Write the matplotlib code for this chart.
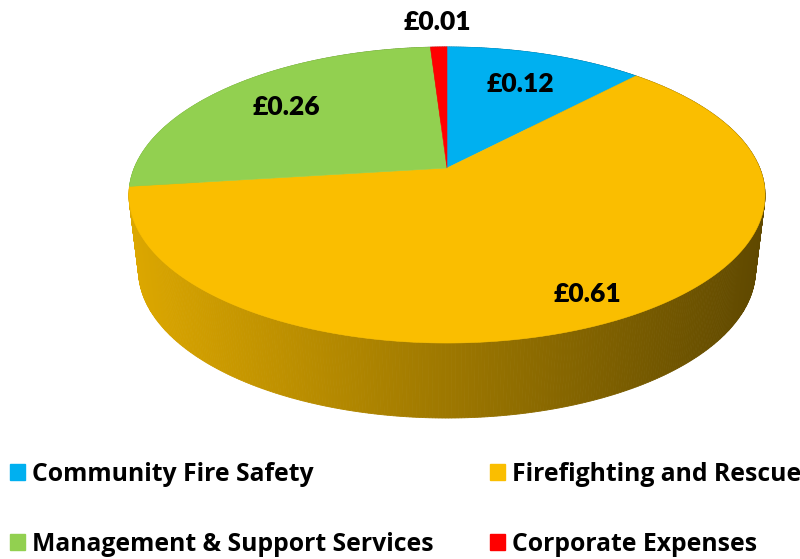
import numpy as np
import matplotlib.pyplot as plt
from matplotlib.patches import Polygon, Patch

categories = ["Community Fire Safety", "Firefighting and Rescue",
              "Management & Support Services", "Corporate Expenses"]
values = [0.12, 0.61, 0.26, 0.01]
labels = ["£0.12", "£0.61", "£0.26", "£0.01"]
colors = ["#00B0F0", "#FABE00", "#92D050", "#FF0000"]

# label distance from centre (fraction of radius)
label_r = [0.71, 0.85, 0.72, 1.25]

# perspective setup for the tilted disc (pixel space)
CX, CY = 447, 168
A, B, K = 312.7, 143.1, 0.1824
DEPTH, SHRINK = 75, 0.97


def top_pt(theta, r=1.0):
    # theta in degrees, clockwise from 12 o'clock
    t = np.radians(theta)
    u, v = r * np.sin(t), r * np.cos(t)
    w = 1 + K * v
    return CX + A * u / w, CY - B * v / w


def bot_pt(theta):
    x, y = top_pt(theta)
    return CX + SHRINK * (x - CX), y + DEPTH


def shade(c, x):
    t = np.clip((x - 130) / 637, 0, 1)
    f = 0.88 - 0.50 * t
    rgb = np.array(plt.matplotlib.colors.to_rgb(c))
    return tuple(rgb * f)


fig = plt.figure(figsize=(8, 5.59), dpi=100)
ax = fig.add_axes([0, 0, 1, 1])
ax.set_xlim(0, 800)
ax.set_ylim(559, 0)
ax.axis("off")

fracs = np.array(values) / sum(values)
starts = np.concatenate([[0], np.cumsum(fracs)[:-1]]) * 360
ends = np.cumsum(fracs) * 360

# side wall strips, back to front
strips = []
for s, e, c in zip(starts, ends, colors):
    n = max(int((e - s) * 2), 2)
    th = np.linspace(s, e, n + 1)
    for a0, a1 in zip(th[:-1], th[1:]):
        p0, p1 = top_pt(a0), top_pt(a1)
        q0, q1 = bot_pt(a0), bot_pt(a1)
        vmid = np.cos(np.radians((a0 + a1) / 2))
        strips.append((vmid, [p0, p1, q1, q0], shade(c, (p0[0] + p1[0]) / 2)))
strips.sort(key=lambda s: -s[0])
for _, pts, col in strips:
    ax.add_patch(Polygon(pts, closed=True, facecolor=col, edgecolor=col, lw=0.6))

# top face wedges
for s, e, c in zip(starts, ends, colors):
    th = np.linspace(s, e, max(int(e - s) * 2, 4))
    pts = [(CX, CY)] + [top_pt(a) for a in th]
    ax.add_patch(Polygon(pts, closed=True, facecolor=c, edgecolor=c, lw=0.4))

# data labels
for s, e, lab, r in zip(starts, ends, labels, label_r):
    x, y = top_pt((s + e) / 2, r)
    ax.text(x, y, lab, ha="center", va="center", fontsize=19,
            fontweight="heavy", family="Lato", color="black")

handles = [Patch(color=c) for c in colors]
order = [0, 2, 1, 3]
fig.legend([handles[i] for i in order], [categories[i] for i in order],
           ncol=2, loc="upper left", bbox_to_anchor=(10 / 800, 0.174),
           frameon=False, borderpad=0, borderaxespad=0,
           handlelength=0.61, handleheight=0.61,
           handletextpad=0.3, columnspacing=2.25, labelspacing=1.82,
           prop={"family": "Open Sans", "weight": "bold", "size": 17.8})

fig.savefig("out.png", dpi=100)
